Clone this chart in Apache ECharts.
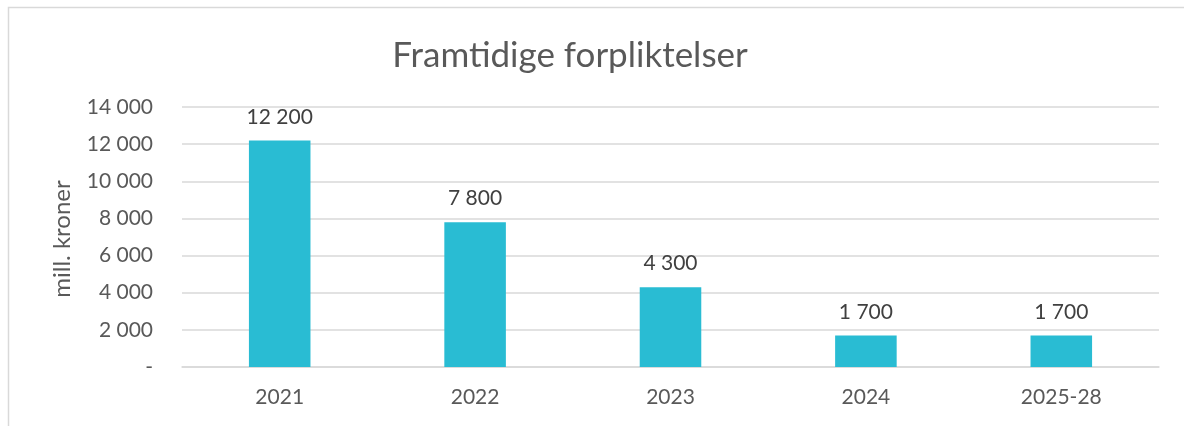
<!DOCTYPE html>
<html><head><meta charset="utf-8">
<script src="https://cdn.jsdelivr.net/npm/echarts@6/dist/echarts.min.js"></script>
<style>html,body{margin:0;padding:0;background:#fff}#c{width:1184px;height:426px}</style>
</head><body><div id="c"></div>
<script>
const categories = ['2021', '2022', '2023', '2024', '2025-28'];
const values = [12200, 7800, 4300, 1700, 1700];
const yTicks = [0, 2000, 4000, 6000, 8000, 10000, 12000, 14000];
const yName = 'mill. kroner';

function fmt(v) {
  if (v === 0) return '-';
  return String(v).replace(/\B(?=(\d{3})+(?!\d))/g, ' ');
}
const FONT = 'Lato, "Open Sans", sans-serif';
const chart = echarts.init(document.getElementById('c'), null, {renderer: 'canvas'});
chart.setOption({
  animation: false,
  backgroundColor: '#fff',
  title: {
    text: 'Framtidige forpliktelser',
    left: 565, top: 33, textAlign: 'center',
    textStyle: {fontFamily: FONT, fontSize: 35, fontWeight: 'normal', color: '#595959'}
  },
  graphic: [{
    type: 'rect', shape: {x: 8.5, y: 7.5, width: 1200, height: 440},
    style: {fill: 'none', stroke: '#D9D9D9', lineWidth: 1.5}, silent: true
  }, {
    type: 'text', x: 62, y: 239, rotation: Math.PI / 2,
    style: {text: yName, fontFamily: FONT, fontSize: 24, fill: '#595959', align: 'center', verticalAlign: 'middle'},
    silent: true
  }],
  grid: {left: 182, right: 25, top: 107, bottom: 59, containLabel: false},
  xAxis: {
    type: 'category', data: categories,
    axisLine: {lineStyle: {color: '#D9D9D9', width: 1.5}},
    axisTick: {show: false},
    axisLabel: {fontFamily: FONT, fontSize: 21, color: '#595959', margin: 20}
  },
  yAxis: {
    type: 'value', min: yTicks[0], max: yTicks[yTicks.length - 1], interval: 2000,
    axisLine: {show: false}, axisTick: {show: false},
    splitLine: {lineStyle: {color: '#D9D9D9', width: 1.5}},
    axisLabel: {fontFamily: FONT, fontSize: 21, color: '#595959', margin: 29, formatter: fmt}
  },
  series: [{
    type: 'bar', data: values, barWidth: '31.5%',
    itemStyle: {color: '#29BCD3'},
    label: {show: true, position: 'top', distance: 13, formatter: p => fmt(p.value),
      fontFamily: FONT, fontSize: 21, color: '#404040'}
  }]
});
</script></body></html>
